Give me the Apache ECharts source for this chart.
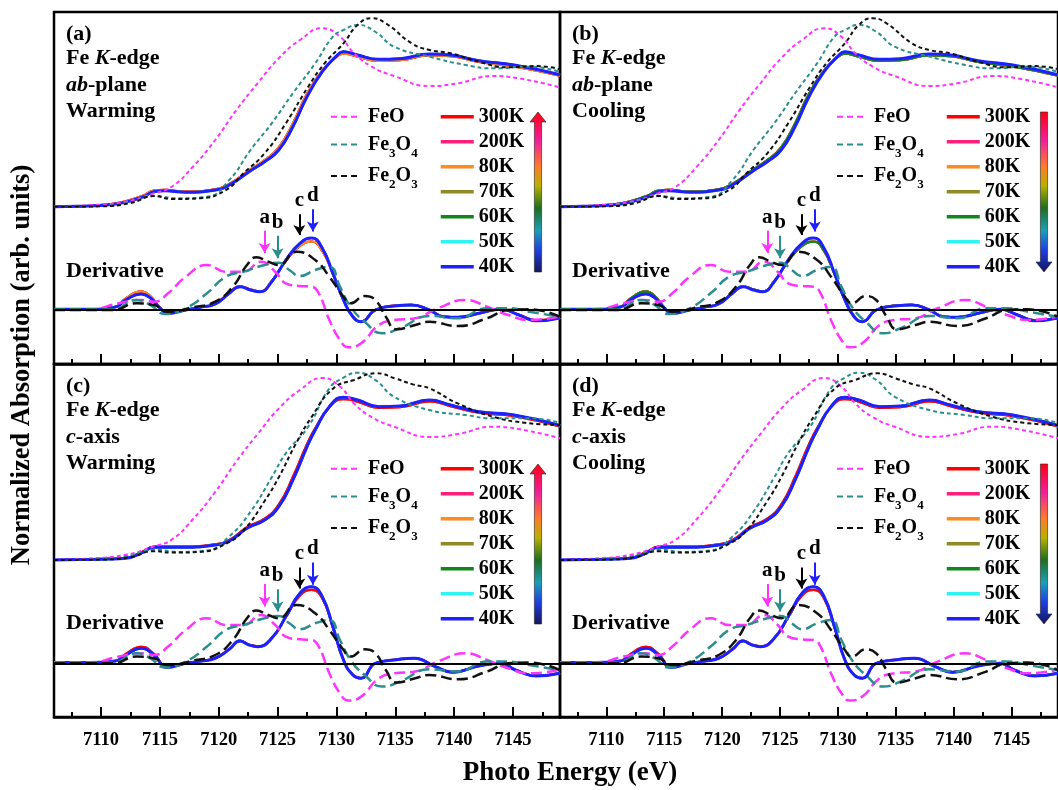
<!DOCTYPE html>
<html>
<head>
<meta charset="utf-8">
<script src="https://cdn.jsdelivr.net/npm/echarts@6/dist/echarts.min.js"></script>
<style>
html,body{margin:0;padding:0;background:#fff;}
#chart{width:1058px;height:790px;}
</style>
</head>
<body>
<div id="chart"></div>
<script>
// Fe K-edge XANES of the sample (ab-plane / c-axis, warming / cooling) with FeO, Fe3O4, Fe2O3 references
const FONT = '"Liberation Serif", "Times New Roman", Times, serif';

const energyTicks = [7110, 7115, 7120, 7125, 7130, 7135, 7140, 7145];
const energyMinorTicks = [7107.5, 7112.5, 7117.5, 7122.5, 7127.5, 7132.5, 7137.5, 7142.5, 7147.5];
const temperatures = ['300K', '200K', '80K', '70K', '60K', '50K', '40K'];
const references = ['FeO', 'Fe3O4', 'Fe2O3'];
const peakLabels = ['a', 'b', 'c', 'd'];
const peakEnergies = [7123.9, 7125.0, 7126.85, 7128.0];

// reference spectra: normalized absorption [E (eV), mu]
const feoAbs = [[7106,0],[7109,0.01],[7112.1,0.035],[7114.5,0.093],[7116,0.138],[7117.8,0.276],[7119.7,0.461],[7121.5,0.668],[7123.3,0.853],[7125.1,1.026],[7126.9,1.152],[7128.8,1.233],[7130.3,1.175],[7131.5,1.06],[7133,0.968],[7134.9,0.903],[7137.9,0.834],[7140.3,0.853],[7143.3,0.903],[7145.5,0.887],[7149,0.825]];
const fe3o4Abs = [[7106,0],[7110,0.005],[7112.5,0.03],[7114.5,0.074],[7116.6,0.058],[7119,0.069],[7120.9,0.185],[7122.7,0.392],[7124.5,0.576],[7126.3,0.784],[7128.2,0.991],[7129.7,1.175],[7130.6,1.221],[7131.8,1.256],[7133.3,1.209],[7134.9,1.106],[7137.9,1.037],[7141,0.979],[7143.3,0.956],[7146.4,0.968],[7149,0.93]];
const fe2o3Abs = [[7106,0],[7110,0.003],[7112.5,0.025],[7114.5,0.074],[7116,0.053],[7118.4,0.058],[7120.6,0.115],[7122.1,0.231],[7123.9,0.369],[7125.7,0.576],[7127.6,0.829],[7129,0.991],[7130.6,1.129],[7131.8,1.256],[7133,1.302],[7134.2,1.267],[7136.4,1.129],[7137.9,1.083],[7139.7,1.06],[7142.1,1.002],[7144.5,0.963],[7147,0.972],[7149,0.95]];
// the same references as drawn with the c-axis spectra
const fe3o4AbsC = [[7106,0],[7110,0.005],[7112.5,0.03],[7114.5,0.07],[7116.6,0.055],[7119,0.065],[7120.9,0.16],[7122.7,0.327],[7124.5,0.56],[7125.7,0.723],[7127.6,0.903],[7129.4,1.163],[7130.6,1.235],[7131.8,1.269],[7133.3,1.22],[7134.9,1.106],[7137.9,1.016],[7141,0.982],[7143.3,0.96],[7146.4,0.96],[7149,0.93]];
const fe2o3AbsC = [[7106,0],[7110,0.003],[7112.5,0.02],[7114.5,0.06],[7116,0.05],[7118.4,0.055],[7120.6,0.11],[7122.1,0.2],[7123.9,0.4],[7125.1,0.56],[7126.5,0.78],[7127.9,0.97],[7129.7,1.16],[7131.5,1.22],[7133.4,1.265],[7135,1.23],[7136.5,1.19],[7137.9,1.163],[7140.3,1.061],[7143.3,0.971],[7146,0.93],[7149,0.915]];

// reference spectra: first derivative (arb. units)
const feoDer = [[7106,0.01],[7109,0.01],[7111.5,0.093],[7113.3,0.139],[7114.5,0.115],[7115.7,0.232],[7117.2,0.463],[7119,0.625],[7120.6,0.532],[7122.1,0.532],[7123.6,0.671],[7124.8,0.532],[7125.7,0.371],[7126.9,0.333],[7127.9,0.324],[7128.5,0.232],[7129.4,-0.139],[7130.3,-0.417],[7131,-0.518],[7132.1,-0.463],[7133.6,-0.208],[7134.9,-0.139],[7136.7,-0.115],[7138.6,0.024],[7141,0.139],[7142.8,0.046],[7144.6,-0.069],[7146.4,-0.139],[7149,-0.09]];
const fe3o4Der = [[7106,0.01],[7111,0.01],[7113,0.139],[7114.2,0.069],[7115.4,-0.056],[7117.2,0.024],[7119,0.232],[7120.6,0.463],[7122.1,0.532],[7123.9,0.625],[7125.1,0.657],[7126,0.556],[7126.9,0.472],[7128.2,0.556],[7129.4,0.601],[7130.3,0.324],[7131.2,0.046],[7132.4,-0.163],[7133.9,-0.324],[7135.4,-0.254],[7137.9,-0.083],[7140.3,-0.115],[7142.8,0.024],[7144.6,0.024],[7146.4,-0.024],[7149,-0.095]];
const fe2o3Der = [[7106,0],[7111,0],[7113,0.093],[7114.5,0.069],[7115.7,-0.024],[7117.8,0.038],[7119.7,0.115],[7121.2,0.324],[7122.4,0.625],[7123.2,0.732],[7124.2,0.671],[7125.1,0.625],[7126.6,0.81],[7128.2,0.694],[7129.4,0.463],[7130.6,0.185],[7131.2,0.093],[7132.4,0.194],[7133.3,0.139],[7134.2,-0.093],[7135.1,-0.268],[7136.7,-0.208],[7137.9,-0.163],[7140.3,-0.222],[7142.8,-0.115],[7144.6,0],[7146.4,0.01],[7149,-0.095]];

// sample, ab-plane: absorption and derivative at 40 K and 300 K
const abAbs40K = [[7106,0],[7108,0.003],[7110.5,0.012],[7112,0.03],[7113.6,0.069],[7114.5,0.104],[7115.4,0.111],[7117.2,0.1],[7119.7,0.115],[7120.9,0.15],[7122.7,0.249],[7123.9,0.311],[7125.1,0.392],[7126.3,0.553],[7127.5,0.76],[7128.8,0.933],[7130,1.041],[7130.6,1.071],[7131.8,1.048],[7133.6,1.019],[7135.4,1.023],[7137.9,1.055],[7139.7,1.048],[7142.1,1.009],[7145.1,0.979],[7149,0.912]];
const abAbs300K = [[7106,0],[7108,0.003],[7110.5,0.014],[7112,0.035],[7113.6,0.078],[7114.5,0.112],[7115.4,0.116],[7117.2,0.104],[7119.7,0.12],[7120.9,0.157],[7122.7,0.258],[7123.9,0.322],[7125.1,0.41],[7126.3,0.575],[7127.5,0.78],[7128.8,0.94],[7130,1.035],[7130.6,1.058],[7131.8,1.036],[7133.6,1.008],[7135.4,1.012],[7137.9,1.045],[7139.7,1.04],[7142.1,1.0],[7145.1,0.97],[7149,0.905]];
const abDer40K = [[7106,0.01],[7109,0.01],[7111.2,0.04],[7112.1,0.14],[7113.4,0.222],[7114.2,0.167],[7115,0.028],[7115.7,-0.046],[7117.2,0],[7118.5,0.04],[7119.7,0.083],[7120.9,0.232],[7121.8,0.324],[7122.7,0.278],[7123.5,0.254],[7124.5,0.393],[7125.7,0.694],[7126.9,0.926],[7127.9,1.0],[7128.8,0.857],[7129.7,0.51],[7130.6,0.139],[7131.4,-0.093],[7132.1,-0.163],[7133.3,0],[7134.9,0.056],[7136.4,0.069],[7137.9,0],[7139.1,-0.093],[7140.3,-0.101],[7142.1,-0.046],[7144,0.01],[7145.5,-0.069],[7147,-0.149],[7149,-0.11]];
const abDer300K = [[7106,0.01],[7109,0.01],[7111.2,0.045],[7112.1,0.16],[7113.4,0.26],[7114.2,0.19],[7115,0.035],[7115.7,-0.046],[7117.2,0],[7118.5,0.04],[7119.7,0.085],[7120.9,0.24],[7121.8,0.33],[7122.7,0.285],[7123.5,0.26],[7124.5,0.4],[7125.7,0.68],[7126.9,0.89],[7127.9,0.95],[7128.8,0.82],[7129.7,0.5],[7130.6,0.14],[7131.4,-0.09],[7132.1,-0.16],[7133.3,0],[7134.9,0.06],[7136.4,0.072],[7137.9,0],[7139.1,-0.09],[7140.3,-0.1],[7142.1,-0.046],[7144,0.01],[7145.5,-0.065],[7147,-0.145],[7149,-0.11]];

// sample, c-axis: absorption and derivative at 40 K and 300 K
const cAbs40K = [[7106,0],[7108,0.003],[7110.5,0.006],[7112.1,0.012],[7113.5,0.05],[7114.5,0.086],[7116.6,0.086],[7119.7,0.102],[7120.9,0.129],[7122.4,0.215],[7123.9,0.271],[7125.1,0.361],[7126.3,0.542],[7127.5,0.767],[7128.2,0.881],[7129.4,1.039],[7130.6,1.103],[7131.8,1.084],[7133.6,1.039],[7135.4,1.043],[7137.9,1.084],[7139.7,1.05],[7142.1,1.005],[7145.1,0.982],[7149,0.912]];
const cAbs300K = [[7106,0],[7108,0.003],[7110.5,0.007],[7112.1,0.014],[7113.5,0.055],[7114.5,0.09],[7116.6,0.09],[7119.7,0.106],[7120.9,0.135],[7122.4,0.222],[7123.9,0.28],[7125.1,0.375],[7126.3,0.562],[7127.5,0.785],[7128.2,0.893],[7129.4,1.035],[7130.6,1.09],[7131.8,1.073],[7133.6,1.03],[7135.4,1.035],[7137.9,1.075],[7139.7,1.043],[7142.1,0.998],[7145.1,0.975],[7149,0.905]];
const cDer40K = [[7106,0.01],[7109,0.01],[7111.2,0.03],[7112.1,0.115],[7113.4,0.208],[7114.5,0.115],[7115.6,-0.056],[7117.2,0],[7118.5,0.03],[7119.7,0.07],[7120.9,0.194],[7121.8,0.31],[7122.5,0.26],[7123.3,0.231],[7124.5,0.347],[7125.7,0.647],[7126.9,0.972],[7127.9,1.064],[7128.8,0.925],[7129.7,0.508],[7130.6,0.046],[7131.4,-0.162],[7132.1,-0.208],[7133.3,0],[7134.9,0.046],[7136.6,0.07],[7138.4,-0.046],[7139.9,-0.125],[7142.1,-0.037],[7144,0],[7145.2,-0.093],[7147,-0.176],[7149,-0.139]];
const cDer300K = [[7106,0.01],[7109,0.01],[7111.2,0.035],[7112.1,0.13],[7113.4,0.23],[7114.5,0.13],[7115.6,-0.05],[7117.2,0],[7118.5,0.03],[7119.7,0.072],[7120.9,0.2],[7121.8,0.315],[7122.5,0.265],[7123.3,0.236],[7124.5,0.35],[7125.7,0.64],[7126.9,0.94],[7127.9,1.02],[7128.8,0.9],[7129.7,0.5],[7130.6,0.05],[7131.4,-0.158],[7132.1,-0.205],[7133.3,0],[7134.9,0.048],[7136.6,0.072],[7138.4,-0.044],[7139.9,-0.122],[7142.1,-0.036],[7144,0],[7145.2,-0.09],[7147,-0.172],[7149,-0.136]];

const sampleSets = {
  ab: { abs: { hi: abAbs40K, lo: abAbs300K }, der: { hi: abDer40K, lo: abDer300K } },
  c:  { abs: { hi: cAbs40K,  lo: cAbs300K  }, der: { hi: cDer40K,  lo: cDer300K  } }
};
const refAbsSets = {
  ab: { FeO: feoAbs, Fe3O4: fe3o4Abs, Fe2O3: fe2o3Abs },
  c:  { FeO: feoAbs, Fe3O4: fe3o4AbsC, Fe2O3: fe2o3AbsC }
};
const refDer = { FeO: feoDer, Fe3O4: fe3o4Der, Fe2O3: fe2o3Der };

const tempColors = { '300K': '#ff0000', '200K': '#ff1f7a', '80K': '#ff8a1e', '70K': '#8f8a26', '60K': '#12861a', '50K': '#2ff2f2', '40K': '#1f1fff' };
const refColors = { FeO: '#ff33ff', Fe3O4: '#2a8f8c', Fe2O3: '#111111' };
const peakColors = ['#ff33ff', '#2a8f8c', '#000000', '#1f1fff'];
const peakArrowTop = [1.10, 1.03, 1.33, 1.40];
const peakArrowTip = [0.79, 0.72, 1.04, 1.09];

const GRID_W = 506;
const panels = [
  { tag: '(a)', axis: 'ab', mode: 'Warming', left: 54,  top: 12,  height: 352, labels: false, lowFirst: ['200K', '300K', '80K'], high: ['70K', '60K', '50K', '40K'],
    absRange: [-1.087, 1.3455], derRange: [-0.75, 4.139] },
  { tag: '(b)', axis: 'ab', mode: 'Cooling', left: 560, top: 12,  height: 352, labels: false, lowFirst: ['300K', '200K', '80K', '70K', '60K'], high: ['50K', '40K'],
    absRange: [-1.087, 1.3455], derRange: [-0.75, 4.139] },
  { tag: '(c)', axis: 'c',  mode: 'Warming', left: 54,  top: 364, height: 353, labels: true,  lowFirst: ['200K', '80K', '300K'], high: ['70K', '60K', '50K', '40K'],
    absRange: [-1.0637, 1.328], derRange: [-0.746, 4.157] },
  { tag: '(d)', axis: 'c',  mode: 'Cooling', left: 560, top: 364, height: 353, labels: true,  lowFirst: ['200K', '80K', '300K'], high: ['70K', '60K', '50K', '40K'],
    absRange: [-1.0637, 1.328], derRange: [-0.746, 4.157] }
];

const boldText = { fontFamily: FONT, fontWeight: 'bold', color: '#000' };
const hiddenSymbol = { color: 'rgba(0,0,0,0)', borderWidth: 0, opacity: 0 };

const grid = [], xAxis = [], yAxis = [], series = [], legend = [], graphic = [];

function line(name, data, p, yIdx, color, width, dash, z) {
  return {
    type: 'line', name: name, data: data, xAxisIndex: p, yAxisIndex: yIdx,
    smooth: 0.5, symbol: 'none', showSymbol: false, silent: true,
    lineStyle: { color: color, width: width, type: dash || 'solid' },
    itemStyle: { color: color }, z: z, animation: false
  };
}

panels.forEach(function (pn, p) {
  grid.push({ left: pn.left, top: pn.top, width: GRID_W, height: pn.height, show: true,
    borderColor: '#000', borderWidth: 2.5, backgroundColor: 'rgba(0,0,0,0)' });

  xAxis[p] = {
    gridIndex: p, type: 'value', min: 7106, max: 7149, position: 'bottom',
    axisLine: { show: true, onZero: false, lineStyle: { color: '#000', width: 2.5 } },
    axisTick: { show: true, inside: true, length: 10, customValues: energyTicks, lineStyle: { color: '#000', width: 2 } },
    axisLabel: Object.assign({ show: pn.labels, customValues: energyTicks, margin: 14, fontSize: 18.5,
      formatter: function (v) { return String(v); } }, boldText),
    splitLine: { show: false }
  };
  xAxis[p + 4] = {
    gridIndex: p, type: 'value', min: 7106, max: 7149, position: 'bottom',
    axisLine: { show: false, onZero: false },
    axisTick: { show: true, inside: true, length: 5, customValues: energyMinorTicks, lineStyle: { color: '#000', width: 2 } },
    axisLabel: { show: false }, splitLine: { show: false }
  };
  yAxis.push({ gridIndex: p, type: 'value', min: pn.absRange[0], max: pn.absRange[1], show: false, splitLine: { show: false } });
  yAxis.push({ gridIndex: p, type: 'value', min: pn.derRange[0], max: pn.derRange[1], show: false, splitLine: { show: false } });

  const set = sampleSets[pn.axis];
  const order = pn.lowFirst.concat(pn.high);
  order.forEach(function (t) {
    const grp = pn.high.indexOf(t) >= 0 ? 'hi' : 'lo';
    const w = t === '40K' ? 3 : 2.2;
    series.push(line(t, set.abs[grp], p, 2 * p, tempColors[t], w, null, 3));
    const s = line(t, set.der[grp], p, 2 * p + 1, tempColors[t], w, null, 3);
    if (t === '40K') {
      const marks = [{ yAxis: 0, symbol: 'none', lineStyle: { color: '#000', width: 2, type: 'solid' }, label: { show: false } }];
      peakLabels.forEach(function (lab, i) {
        marks.push([
          { coord: [peakEnergies[i], peakArrowTop[i]], symbol: 'none',
            lineStyle: { color: peakColors[i], width: 2, type: 'solid' },
            label: Object.assign({ show: true, position: 'start', formatter: lab, fontSize: 21, distance: 3 }, boldText) },
          { coord: [peakEnergies[i], peakArrowTip[i]], symbol: 'arrow', symbolSize: [9, 10] }
        ]);
      });
      s.markLine = { silent: true, animation: false, symbol: ['none', 'none'], data: marks, z: 6 };
    }
    series.push(s);
  });

  const refAbs = refAbsSets[pn.axis];
  references.forEach(function (r) {
    series.push(line(r, refAbs[r], p, 2 * p, refColors[r], 2, [4, 3], 4));
    series.push(line(r, refDer[r], p, 2 * p + 1, refColors[r], 2.5, [11, 5], 4));
  });

  // legends: reference compounds (one row each) and temperatures
  const refRows = [{ n: 'FeO', dy: 94.7 }, { n: 'Fe3O4', dy: 122.5 }, { n: 'Fe2O3', dy: 154 }];
  refRows.forEach(function (row) {
    legend.push({
      data: [row.n], orient: 'vertical', left: pn.left + 276, top: pn.top + row.dy, padding: 0,
      itemWidth: 27, itemHeight: 14, selectedMode: false,
      lineStyle: { width: 2, type: [6, 4] }, itemStyle: hiddenSymbol,
      formatter: function (n) { return n === 'FeO' ? '{m|FeO}' : '{m|Fe}{s|' + n[2] + '}{m|O}{s|' + n[4] + '}'; },
      textStyle: Object.assign({ fontSize: 20, padding: [0, 0, 0, 5],
        rich: {
          m: Object.assign({ fontSize: 20 }, boldText),
          s: Object.assign({ fontSize: 13, padding: [18, 0, 0, 0] }, boldText)
        } }, boldText)
    });
  });
  legend.push({
    data: temperatures, orient: 'vertical', left: pn.left + 385, top: pn.top + 94.7, padding: 0,
    itemWidth: 33, itemHeight: 14, itemGap: 5, selectedMode: false,
    lineStyle: { width: 3.5 }, itemStyle: hiddenSymbol,
    textStyle: Object.assign({ fontSize: 20 }, boldText)
  });

  // panel captions
  const tx = pn.left + 12;
  const rich = {
    b: { font: 'bold 22px ' + FONT, fill: '#000' },
    i: { font: 'italic bold 22px ' + FONT, fill: '#000' }
  };
  const caps = [
    { text: '{b|' + pn.tag + '}', dy: 22 },
    { text: '{b|Fe }{i|K}{b|-edge}', dy: 46.3 },
    { text: pn.axis === 'ab' ? '{i|ab}{b|-plane}' : '{i|c}{b|-axis}', dy: 73 },
    { text: '{b|' + pn.mode + '}', dy: 99.7 },
    { text: '{b|Derivative}', dy: 259.7 }
  ];
  caps.forEach(function (c) {
    graphic.push({ type: 'text', silent: true, z: 10,
      style: { text: c.text, x: tx, y: pn.top + c.dy, rich: rich, font: 'bold 22px ' + FONT, fill: '#000',
        align: 'left', verticalAlign: 'middle', textAlign: 'left', textVerticalAlign: 'middle' } });
  });

  // temperature colour arrow
  const cx = pn.left + 484, hw = 3.6, hh = 8;
  const yTop = pn.top + 100, yBot = pn.top + 260, headLen = 10;
  const pts = pn.mode === 'Warming'
    ? [[cx, yTop], [cx + hh, yTop + headLen], [cx + hw, yTop + headLen], [cx + hw, yBot], [cx - hw, yBot], [cx - hw, yTop + headLen], [cx - hh, yTop + headLen]]
    : [[cx - hw, yTop], [cx + hw, yTop], [cx + hw, yBot - headLen], [cx + hh, yBot - headLen], [cx, yBot], [cx - hh, yBot - headLen], [cx - hw, yBot - headLen]];
  graphic.push({ type: 'polygon', silent: true, z: 10, shape: { points: pts },
    style: { stroke: '#222', lineWidth: 0.6,
      fill: { type: 'linear', x: 0, y: 0, x2: 0, y2: 1, global: false, colorStops: [
        { offset: 0, color: '#ff0010' }, { offset: 0.18, color: '#f0209a' }, { offset: 0.34, color: '#ff7a2a' },
        { offset: 0.46, color: '#b9b000' }, { offset: 0.6, color: '#1d6e1d' }, { offset: 0.74, color: '#1a9fb8' },
        { offset: 0.86, color: '#2040e0' }, { offset: 1, color: '#15155a' } ] } } });
});

graphic.push({ type: 'text', silent: true, z: 10, x: 22, y: 365, rotation: Math.PI / 2,
  style: { text: 'Normalized Absorption (arb. units)', x: 0, y: 0, font: 'bold 26.5px ' + FONT, fill: '#000',
    align: 'center', verticalAlign: 'middle', textAlign: 'center', textVerticalAlign: 'middle' } });
graphic.push({ type: 'text', silent: true, z: 10,
  style: { text: 'Photo Energy (eV)', x: 570, y: 773, font: 'bold 27px ' + FONT, fill: '#000',
    align: 'center', verticalAlign: 'middle', textAlign: 'center', textVerticalAlign: 'middle' } });

const chart = echarts.init(document.getElementById('chart'));
chart.setOption({
  animation: false,
  backgroundColor: '#fff',
  grid: grid, xAxis: xAxis, yAxis: yAxis, series: series, legend: legend, graphic: graphic
});
</script>
</body>
</html>
